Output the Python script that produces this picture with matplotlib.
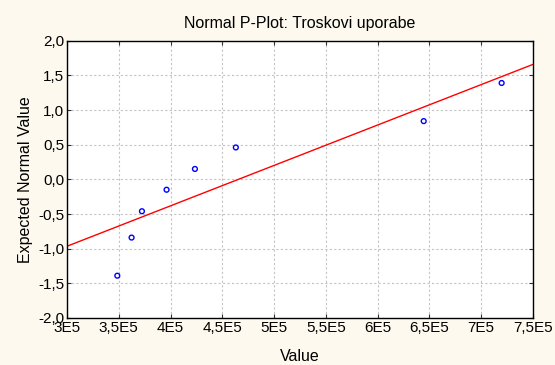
import matplotlib

matplotlib.use("Agg")

import matplotlib.pyplot as plt
from matplotlib.ticker import FuncFormatter
import numpy as np

# observed values and their expected normal scores
values = [3.486e5, 3.624e5, 3.724e5, 3.962e5, 4.236e5, 4.631e5, 6.446e5, 7.199e5]
expected = [-1.39, -0.84, -0.46, -0.15, 0.15, 0.46, 0.84, 1.39]

# reference line: y = fit_intercept + fit_slope * x
fit_intercept = -0.965 - 3.0 * 0.5827
fit_slope = 0.5827e-5

x_ticks = [3e5, 3.5e5, 4e5, 4.5e5, 5e5, 5.5e5, 6e5, 6.5e5, 7e5, 7.5e5]
y_ticks = [-2.0, -1.5, -1.0, -0.5, 0.0, 0.5, 1.0, 1.5, 2.0]

plt.rcParams["font.family"] = ["Liberation Sans", "DejaVu Sans"]

fig = plt.figure(figsize=(5.55, 3.65), dpi=100)
fig.patch.set_facecolor("#FDF9EE")
ax = fig.add_axes([0.1207, 0.1288, 0.8393, 0.7597])
ax.set_facecolor("white")

xs = np.array([x_ticks[0], x_ticks[-1]])
ax.plot(xs, fit_intercept + fit_slope * xs, color="#FF0000", linewidth=1.0, zorder=2)
ax.scatter(values, expected, s=12, facecolors="none", edgecolors="#0000FF",
           linewidths=1.0, zorder=3)

ax.set_xlim(x_ticks[0], x_ticks[-1])
ax.set_ylim(y_ticks[0], y_ticks[-1])
ax.set_xticks(x_ticks)
ax.set_yticks(y_ticks)


def sci_label(v, pos):
    m = v / 1e5
    txt = f"{m:g}".replace(".", ",")
    return f"{txt}E5"


ax.xaxis.set_major_formatter(FuncFormatter(sci_label))
ax.yaxis.set_major_formatter(FuncFormatter(lambda v, p: f"{v:.1f}".replace(".", ",")))
ax.tick_params(direction="in", length=3, width=0.8, color="#333333",
               labelsize=11, top=True, right=True, pad=2)
ax.grid(color="#C4C4C4", linestyle=(0, (2, 2)), linewidth=0.8)
ax.set_axisbelow(True)
for spine in ax.spines.values():
    spine.set_color("#000000")
    spine.set_linewidth(1.0)

ax.set_title("Normal P-Plot: Troskovi uporabe", fontsize=11.5, pad=9)
ax.set_xlabel("Value", fontsize=11.5, labelpad=10)
ax.set_ylabel("Expected Normal Value", fontsize=11.5, labelpad=4)

plt.savefig("out.png", dpi=100, facecolor=fig.get_facecolor())
plt.close(fig)
